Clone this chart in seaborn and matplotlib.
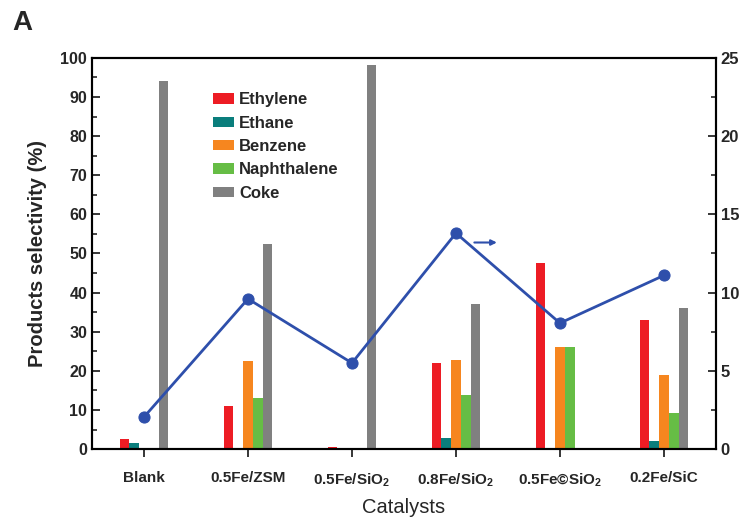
import numpy as np
import pandas as pd
import matplotlib
matplotlib.use("Agg")
import matplotlib.pyplot as plt
import seaborn as sns

catalysts = ["Blank", "0.5Fe/ZSM", "0.5Fe/SiO$_2$", "0.8Fe/SiO$_2$", "0.5Fe\u00a9SiO$_2$", "0.2Fe/SiC"]
products = ["Ethylene", "Ethane", "Benzene", "Naphthalene", "Coke"]
ethylene = [2.6, 10.9, 0.6, 22.0, 47.6, 32.9]
ethane = [1.5, 0.0, 0.0, 2.9, 0.0, 2.0]
benzene = [0.0, 22.6, 0.0, 22.7, 26.0, 18.9]
naphthalene = [0.0, 13.1, 0.4, 13.8, 26.0, 9.2]
coke = [94.0, 52.5, 98.2, 37.0, 0.0, 36.0]
conversion = [2.05, 9.6, 5.5, 13.8, 8.05, 11.1]
colors = ["#ed1c24", "#0a7e7c", "#f6861f", "#66bd45", "#808080"]

sns.set_style("white")
plt.rcParams["font.family"] = ["Liberation Sans", "DejaVu Sans"]
plt.rcParams["mathtext.default"] = "regular"

series = [ethylene, ethane, benzene, naphthalene, coke]
rows = []
for p, vals in zip(products, series):
    for c, v in zip(catalysts, vals):
        rows.append({"Catalyst": c, "Product": p, "Value": v})
df = pd.DataFrame(rows)

fig = plt.figure(figsize=(7.45, 5.21), dpi=100)
ax = fig.add_axes([0.1235, 0.138, 0.8375, 0.751])
sns.barplot(data=df, x="Catalyst", y="Value", hue="Product", order=catalysts,
            hue_order=products, palette=colors, width=0.47, linewidth=0,
            saturation=1, ax=ax, errorbar=None)
ax.set_xlim(-0.5, 5.5)
ax.set_ylim(0, 100)
ax.set_yticks(np.arange(0, 101, 10))
ax.set_yticks(np.arange(5, 100, 10), minor=True)
ax.tick_params(axis="y", which="major", direction="in", length=6, width=1.3, labelsize=11.5)
ax.tick_params(axis="y", which="minor", direction="in", length=3.5, width=1.2, left=True)
ax.tick_params(axis="x", direction="out", length=6, width=1.3, labelsize=11, pad=10, bottom=True)
for lab in ax.get_yticklabels() + ax.get_xticklabels():
    lab.set_fontweight("bold")
ax.set_ylabel("Products selectivity (%)", fontsize=14.5, fontweight="bold", labelpad=10)
ax.set_xlabel("Catalysts", fontsize=14.5, labelpad=7)
for s in ax.spines.values():
    s.set_linewidth(1.5)
    s.set_color("black")

leg = ax.legend(loc="upper left", bbox_to_anchor=(0.17, 0.95), frameon=False,
                handlelength=1.25, handleheight=0.55, labelspacing=0.5, handletextpad=0.3,
                prop={"weight": "bold", "size": 12})

ax2 = ax.twinx()
sns.lineplot(x=np.arange(len(catalysts)), y=conversion, ax=ax2, color="#2e4fab",
             marker="o", markersize=8, linewidth=2, markeredgecolor="#2e4fab")
ax2.set_ylim(0, 25)
ax2.set_yticks(np.arange(0, 26, 5))
ax2.set_yticks(np.arange(2.5, 25, 5), minor=True)
ax2.tick_params(axis="y", which="major", direction="in", length=6, width=1.3, labelsize=12)
ax2.tick_params(axis="y", which="minor", direction="in", length=3.5, width=1.2, right=True)
for lab in ax2.get_yticklabels():
    lab.set_fontweight("bold")
ax2.set_ylabel("")
ax2.annotate("", xy=(3.42, 13.2), xytext=(3.15, 13.2),
             arrowprops=dict(arrowstyle="-|>", color="#2e4fab", lw=1.5, mutation_scale=8))
for s in ax2.spines.values():
    s.set_linewidth(1.5)
    s.set_color("black")

fig.text(0.016, 0.955, "A", fontsize=20, fontweight="bold", va="center")

fig.savefig("out.png", dpi=100)
